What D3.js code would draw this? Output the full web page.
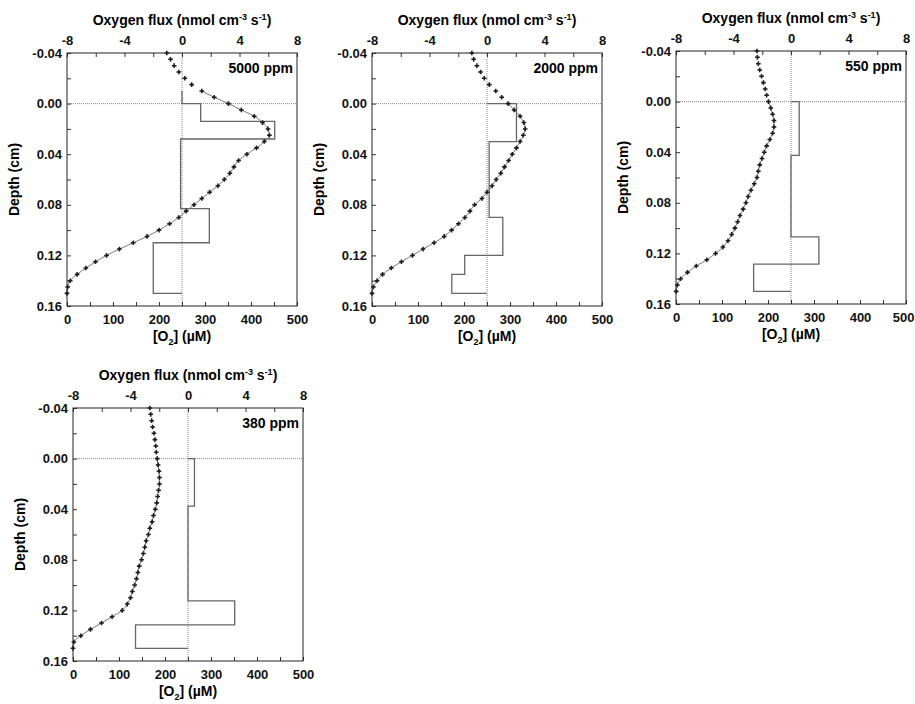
<!DOCTYPE html>
<html>
<head>
<meta charset="utf-8">
<script src="https://cdn.jsdelivr.net/npm/d3@7"></script>
<style>
  body { margin: 0; background: #fff; }
  svg { font-family: "Liberation Sans", Arial, sans-serif; font-weight: bold; }
  .tick text { fill: #111; }
</style>
</head>
<body>
<div id="chart"></div>
<script>
// depth of each O2 measurement (cm)
const depths = [-0.04, -0.035, -0.03, -0.025, -0.02, -0.015, -0.01, -0.005,
  0, 0.005, 0.01, 0.015, 0.02, 0.025, 0.03, 0.035, 0.04, 0.045, 0.05, 0.055,
  0.06, 0.065, 0.07, 0.075, 0.08, 0.085, 0.09, 0.095, 0.1, 0.105, 0.11, 0.115,
  0.12, 0.125, 0.13, 0.135, 0.14, 0.145, 0.15];

// [O2] (uM) profiles
const o2_5000 = [217, 225, 233, 243, 256, 271, 293, 320, 351, 379, 407, 425, 437, 440,
  429, 412, 391, 373, 363, 354, 342, 328, 310, 293, 276, 259, 243, 223, 200, 174,
  144, 114, 86, 62, 41, 22, 7, 1.5, 0];
const o2_2000 = [217, 221, 228, 236, 244, 255, 269, 282, 296, 309, 322, 330, 333, 329,
  322, 314, 305, 297, 288, 280, 270, 261, 250, 239, 223, 213, 202, 188, 173, 157,
  135, 111, 88, 64, 42, 23, 11, 3, 0];
const o2_550 = [176, 177, 179, 182, 186, 190, 194, 197, 201, 206, 210, 213, 213, 210,
  204, 197, 192, 187, 182, 179, 176, 170, 163, 157, 152, 146, 139, 134, 128, 121,
  113, 102, 86, 67, 44, 25, 10, 3, 0.5];
const o2_380 = [167, 169, 171, 173, 176, 178, 180, 181, 183, 185, 187, 188, 188, 186,
  184, 182, 179, 175, 172, 167, 164, 159, 156, 153, 149, 144, 141, 138, 134, 129,
  125, 118, 107, 85, 62, 38, 17, 2, 0];

// flux layers: edges (cm) and flux (nmol cm-3 s-1)
const fluxEdges_5000 = [-0.01, 0, 0.014, 0.028, 0.083, 0.11, 0.15];
const flux_5000 = [0, 1.3, 6.45, -0.1, 1.9, -2.0];
const fluxEdges_2000 = [0, 0.03, 0.09, 0.12, 0.135, 0.15];
const flux_2000 = [2.05, 0.15, 1.1, -1.55, -2.45];
const fluxEdges_550 = [0, 0.0425, 0.107, 0.1285, 0.15];
const flux_550 = [0.57, 0, 1.94, -2.6];
const fluxEdges_380 = [0, 0.0375, 0.1125, 0.1315, 0.15];
const flux_380 = [0.45, 0, 3.25, -3.65];

const labels = ["5000 ppm", "2000 ppm", "550 ppm", "380 ppm"];
const fitStart = [-0.01, 0, 0, 0]; // depth where the model line begins

const fluxTicks = [-8, -6, -4, -2, 0, 2, 4, 6, 8];
const depthTicks = [-0.04, -0.02, 0, 0.02, 0.04, 0.06, 0.08, 0.1, 0.12, 0.14, 0.16];
const o2Ticks = [0, 50, 100, 150, 200, 250, 300, 350, 400, 450, 500];

const width = 915, height = 704;
const pw = 230, ph = 253;
const origins = [[67, 53], [372, 53], [676, 51], [73, 408]];

const panels = labels.map((label, i) => ({
  label,
  o2: [o2_5000, o2_2000, o2_550, o2_380][i],
  edges: [fluxEdges_5000, fluxEdges_2000, fluxEdges_550, fluxEdges_380][i],
  flux: [flux_5000, flux_2000, flux_550, flux_380][i],
  fitStart: fitStart[i],
  origin: origins[i]
}));

const svg = d3.select("#chart").append("svg")
  .attr("width", width)
  .attr("height", height);

const x = d3.scaleLinear().domain([0, 500]).range([0, pw]);
const xf = d3.scaleLinear().domain([-8, 8]).range([0, pw]);
const y = d3.scaleLinear().domain([-0.04, 0.16]).range([0, ph]);

panels.forEach(p => {
  const g = svg.append("g").attr("transform", `translate(${p.origin[0]}, ${p.origin[1]})`);

  // reference lines
  g.append("line")
    .attr("x1", 0).attr("x2", pw)
    .attr("y1", y(0)).attr("y2", y(0))
    .attr("stroke", "#888").attr("stroke-width", 1).attr("stroke-dasharray", "1,1");
  g.append("line")
    .attr("x1", xf(0)).attr("x2", xf(0))
    .attr("y1", 0).attr("y2", ph)
    .attr("stroke", "#888").attr("stroke-width", 1).attr("stroke-dasharray", "1,1");

  // flux step profile
  const steps = [[0, p.edges[0]]];
  p.flux.forEach((f, i) => {
    steps.push([f, p.edges[i]]);
    steps.push([f, p.edges[i + 1]]);
  });
  steps.push([0, p.edges[p.edges.length - 1]]);
  g.append("path")
    .attr("d", d3.line().x(d => xf(d[0])).y(d => y(d[1]))(steps))
    .attr("fill", "none")
    .attr("stroke", "#666")
    .attr("stroke-width", 1.3);

  // O2 profile
  const pts = depths.map((d, i) => ({ d, v: p.o2[i] }));
  g.append("path")
    .attr("d", d3.line().x(d => x(d.v)).y(d => y(d.d)).curve(d3.curveMonotoneY)(pts.filter(d => d.d >= p.fitStart - 1e-9)))
    .attr("fill", "none")
    .attr("stroke", "#777")
    .attr("stroke-width", 1);
  g.selectAll(".dot")
    .data(pts)
    .enter()
    .append("path")
    .attr("class", "dot")
    .attr("transform", d => `translate(${x(d.v)}, ${y(d.d)})`)
    .attr("d", d3.symbol().type(d3.symbolCross).size(12))
    .attr("fill", "#1a1a1a");

  // axes
  const top = g.append("g").call(d3.axisTop(xf).tickValues(fluxTicks)
    .tickFormat(d => d % 4 === 0 ? String(d) : "")
    .tickSizeInner(-4).tickSizeOuter(0).tickPadding(8));
  const left = g.append("g").call(d3.axisLeft(y).tickValues(depthTicks)
    .tickFormat(d => Math.round(d * 100) % 4 === 0 ? d.toFixed(2) : "")
    .tickSizeInner(-4).tickSizeOuter(0).tickPadding(5));
  const bottom = g.append("g").attr("transform", `translate(0, ${ph})`)
    .call(d3.axisBottom(x).tickValues(o2Ticks)
    .tickFormat(d => d % 100 === 0 ? String(d) : "")
    .tickSizeInner(-4).tickSizeOuter(0).tickPadding(9));
  [top, left, bottom].forEach(a => {
    a.select(".domain").remove();
    a.selectAll("text").style("font-size", "13px").style("font-family", "'Liberation Sans', Arial, sans-serif").style("font-weight", "bold");
    a.selectAll("line").attr("stroke", "#333");
  });
  // keep the last label inside the page for the right-hand panel
  if (p.origin[0] + pw + 11 > width) {
    bottom.selectAll(".tick text").filter(d => d === 500).attr("text-anchor", "end").attr("dx", width - 1 - p.origin[0] - pw);
  }

  // frame
  g.append("rect")
    .attr("width", pw).attr("height", ph)
    .attr("fill", "none").attr("stroke", "#222").attr("stroke-width", 1);

  // panel label
  g.append("text")
    .attr("x", pw - 4).attr("y", 20)
    .attr("text-anchor", "end")
    .style("font-size", "14px")
    .text(p.label);

  // top axis title
  const t = g.append("text")
    .attr("x", pw / 2).attr("y", -28)
    .attr("text-anchor", "middle")
    .style("font-size", "14px");
  t.append("tspan").text("Oxygen flux (nmol cm");
  t.append("tspan").attr("dy", -5).style("font-size", "9px").text("-3");
  t.append("tspan").attr("dy", 5).text(" s");
  t.append("tspan").attr("dy", -5).style("font-size", "9px").text("-1");
  t.append("tspan").attr("dy", 5).text(")");

  // bottom axis title
  const b = g.append("text")
    .attr("x", pw / 2).attr("y", ph + 35)
    .attr("text-anchor", "middle")
    .style("font-size", "14px");
  b.append("tspan").text("[O");
  b.append("tspan").attr("dy", 4).style("font-size", "9px").text("2");
  b.append("tspan").attr("dy", -4).text("] (µM)");

  // depth axis title
  g.append("text")
    .attr("transform", `translate(-48, ${ph / 2}) rotate(-90)`)
    .attr("text-anchor", "middle")
    .style("font-size", "14px")
    .text("Depth (cm)");
});
</script>
</body>
</html>
